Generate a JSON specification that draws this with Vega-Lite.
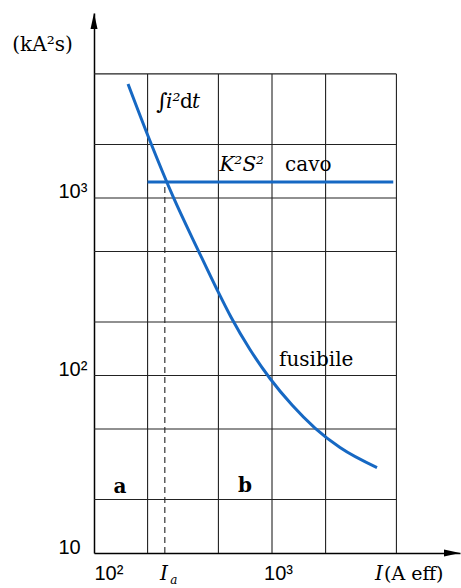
{
  "$schema": "https://vega.github.io/schema/vega-lite/v6.json",
  "width": 366,
  "height": 540,
  "autosize": {"type": "none"},
  "padding": {"left": 94, "top": 13, "right": 1, "bottom": 35},
  "background": "white",
  "config": {"view": {"stroke": null}, "font": "DejaVu Serif"},
  "datasets": {
    "fusibile": [
      {"I": 155.3, "E": 4390},
      {"I": 206.4, "E": 2095},
      {"I": 277.8, "E": 1020},
      {"I": 389, "E": 496},
      {"I": 491, "E": 305},
      {"I": 588, "E": 213.6},
      {"I": 752, "E": 140.1},
      {"I": 974.5, "E": 96.2},
      {"I": 1296, "E": 68.2},
      {"I": 1744, "E": 50.6},
      {"I": 2410, "E": 39.3},
      {"I": 3890, "E": 30.3}
    ],
    "cavo": [
      {"I": 200, "E": 1230},
      {"I": 4800, "E": 1230}
    ],
    "gridV": [
      {"I": 200, "E": 10, "E2": 5000},
      {"I": 500, "E": 10, "E2": 5000},
      {"I": 1000, "E": 10, "E2": 5000},
      {"I": 2000, "E": 10, "E2": 5000},
      {"I": 5000, "E": 10, "E2": 5000}
    ],
    "gridH": [
      {"E": 20, "I": 100, "I2": 5000},
      {"E": 50, "I": 100, "I2": 5000},
      {"E": 100, "I": 100, "I2": 5000},
      {"E": 200, "I": 100, "I2": 5000},
      {"E": 500, "I": 100, "I2": 5000},
      {"E": 1000, "I": 100, "I2": 5000},
      {"E": 2000, "I": 100, "I2": 5000},
      {"E": 5000, "I": 100, "I2": 5000}
    ]
  },
  "encoding": {
    "x": {
      "field": "I",
      "type": "quantitative",
      "scale": {"type": "log", "domain": [100, 11380], "nice": false},
      "axis": {
        "title": null,
        "values": [100, 1000],
        "labelExpr": "datum.value == 100 ? '10²' : '10³'",
        "ticks": false,
        "grid": false,
        "domainColor": "#000",
        "domainWidth": 1.5,
        "labelFont": "Liberation Sans",
        "labelFontSize": 20,
        "labelColor": "#000",
        "labelPadding": 10,
        "labelFlush": true,
        "labelBaseline": "top",
        "labelOffset": {"condition": {"test": "datum.value == 1000", "value": 6}, "value": 0}
      }
    },
    "y": {
      "field": "E",
      "type": "quantitative",
      "scale": {"type": "log", "domain": [10, 11020], "nice": false},
      "axis": {
        "title": "(kA²s)",
        "titleAngle": 0,
        "titleX": -52,
        "titleY": 31,
        "titleAlign": "center",
        "titleBaseline": "middle",
        "titleFont": "DejaVu Serif",
        "titleFontSize": 20,
        "titleFontWeight": "normal",
        "titleColor": "#000",
        "values": [10, 100, 1000],
        "labelExpr": "datum.value == 10 ? '10' : datum.value == 100 ? '10²' : '10³'",
        "ticks": false,
        "grid": false,
        "domainColor": "#000",
        "domainWidth": 1.5,
        "labelFont": "Liberation Sans",
        "labelFontSize": 20,
        "labelColor": "#000",
        "labelAlign": "left",
        "labelBaseline": "alphabetic",
        "labelPadding": 36,
        "labelFlush": false
      }
    }
  },
  "layer": [
    {
      "data": {"name": "gridV"},
      "mark": {"type": "rule", "color": "#222", "strokeWidth": 1.1},
      "encoding": {"y2": {"field": "E2"}}
    },
    {
      "data": {"name": "gridH"},
      "mark": {"type": "rule", "color": "#222", "strokeWidth": 1.1},
      "encoding": {"x2": {"field": "I2"}}
    },
    {
      "data": {"values": [{"I": 250, "E": 10, "E2": 1190}]},
      "mark": {"type": "rule", "color": "#222", "strokeWidth": 1.1, "strokeDash": [6, 4]},
      "encoding": {"y2": {"field": "E2"}}
    },
    {
      "data": {"name": "cavo"},
      "mark": {"type": "line", "color": "#1668c3", "strokeWidth": 3, "strokeCap": "butt"},
      "encoding": {}
    },
    {
      "data": {"name": "fusibile"},
      "mark": {"type": "line", "color": "#1668c3", "strokeWidth": 3, "strokeCap": "butt", "interpolate": "monotone"},
      "encoding": {}
    },
    {
      "data": {"values": [{"I": 100, "E": 11020}]},
      "mark": {"type": "point", "shape": "M0,0L0.35,1.6L-0.35,1.6Z", "size": 400, "filled": true, "color": "#000", "opacity": 1, "strokeWidth": 0}
    },
    {
      "data": {"values": [{"I": 11380, "E": 10}]},
      "mark": {"type": "point", "shape": "M0,0L-1.6,-0.35L-1.6,0.35Z", "size": 400, "filled": true, "color": "#000", "opacity": 1, "strokeWidth": 0}
    },
    {
      "data": {"values": [{"I": 226, "E": 3474, "label": "∫"}]},
      "mark": {"type": "text", "align": "left", "baseline": "middle", "fontSize": 22, "color": "#000", "dx": -1},
      "encoding": {"text": {"field": "label"}}
    },
    {
      "data": {"values": [{"I": 226, "E": 3474, "label": "i²"}]},
      "mark": {"type": "text", "align": "left", "baseline": "middle", "fontSize": 20, "fontStyle": "italic", "color": "#000", "dx": 9},
      "encoding": {"text": {"field": "label"}}
    },
    {
      "data": {"values": [{"I": 226, "E": 3474, "label": "d"}]},
      "mark": {"type": "text", "align": "left", "baseline": "middle", "fontSize": 20, "color": "#000", "dx": 23},
      "encoding": {"text": {"field": "label"}}
    },
    {
      "data": {"values": [{"I": 226, "E": 3474, "label": "t"}]},
      "mark": {"type": "text", "align": "left", "baseline": "middle", "fontSize": 20, "fontStyle": "italic", "color": "#000", "dx": 35},
      "encoding": {"text": {"field": "label"}}
    },
    {
      "data": {"values": [{"I": 500, "E": 1535, "label": "K²S²"}]},
      "mark": {"type": "text", "align": "left", "baseline": "middle", "fontSize": 20, "fontStyle": "italic", "color": "#000", "dx": 1},
      "encoding": {"text": {"field": "label"}}
    },
    {
      "data": {"values": [{"I": 1000, "E": 1535, "label": "cavo"}]},
      "mark": {"type": "text", "align": "left", "baseline": "middle", "fontSize": 20, "color": "#000", "dx": 13},
      "encoding": {"text": {"field": "label"}}
    },
    {
      "data": {"values": [{"I": 1000, "E": 122, "label": "fusibile"}]},
      "mark": {"type": "text", "align": "left", "baseline": "middle", "fontSize": 20, "color": "#000", "dx": 7},
      "encoding": {"text": {"field": "label"}}
    },
    {
      "data": {"values": [{"I": 140, "E": 23.5, "label": "a"}, {"I": 705, "E": 23.8, "label": "b"}]},
      "mark": {"type": "text", "align": "center", "baseline": "middle", "fontSize": 20, "fontWeight": "bold", "color": "#000"},
      "encoding": {"text": {"field": "label"}}
    },
    {
      "data": {"values": [{"I": 250, "E": 10, "label": "I"}]},
      "mark": {"type": "text", "align": "center", "baseline": "middle", "fontSize": 20, "fontStyle": "italic", "color": "#000", "dx": -1, "dy": 21},
      "encoding": {"text": {"field": "label"}}
    },
    {
      "data": {"values": [{"I": 250, "E": 10, "label": "a"}]},
      "mark": {"type": "text", "align": "center", "baseline": "middle", "fontSize": 12, "fontStyle": "italic", "color": "#000", "dx": 9, "dy": 27},
      "encoding": {"text": {"field": "label"}}
    },
    {
      "data": {"values": [{"I": 3790, "E": 10, "label": "I"}]},
      "mark": {"type": "text", "align": "left", "baseline": "middle", "fontSize": 20, "fontStyle": "italic", "color": "#000", "dy": 21},
      "encoding": {"text": {"field": "label"}}
    },
    {
      "data": {"values": [{"I": 3790, "E": 10, "label": "(A eff)"}]},
      "mark": {"type": "text", "align": "left", "baseline": "middle", "fontSize": 19, "color": "#000", "dx": 9, "dy": 21},
      "encoding": {"text": {"field": "label"}}
    }
  ]
}
